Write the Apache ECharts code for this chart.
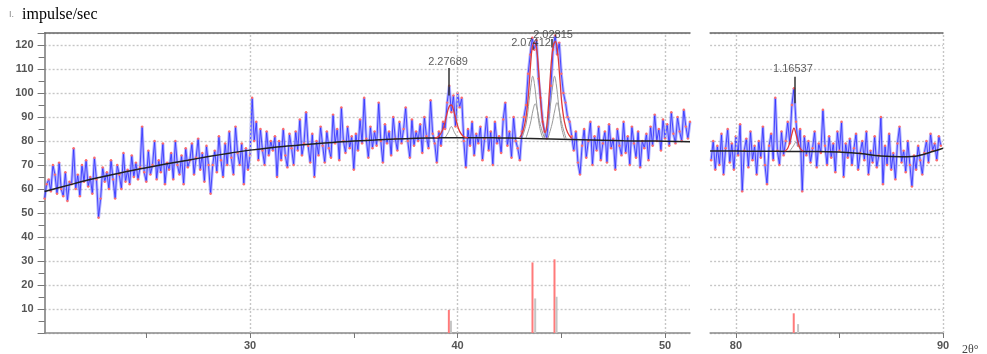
<!DOCTYPE html>
<html><head><meta charset="utf-8">
<script src="https://cdn.jsdelivr.net/npm/echarts/dist/echarts.min.js"></script>
<style>html,body{margin:0;padding:0;background:#fff}#c{width:987px;height:354px}</style>
</head><body><div id="c"></div>
<script>
// ---- data ----
const leftStart = 20.1, rightStart = 78.8, stepDeg = 0.1;
const leftCounts = [
 56,62,64,59,70,66,58,71,60,57,
 67,55,63,62,77,60,66,57,70,63,
 72,61,65,58,73,64,48,56,69,63,
 67,60,72,64,56,70,66,60,75,63,
 68,62,74,65,71,64,69,86,67,63,
 76,66,70,80,64,72,67,79,62,71,
 68,75,64,80,70,66,74,62,77,69,
 72,79,66,73,81,68,75,63,78,70,
 58,70,76,67,82,72,65,79,70,84,
 73,66,86,75,70,79,62,77,68,74,
 98,80,88,72,85,76,70,84,74,80,
 76,82,65,80,72,85,74,69,83,77,
 70,84,76,89,74,79,92,78,71,83,
 65,80,74,86,78,71,84,77,73,91,
 79,85,72,94,80,75,86,77,82,68,
 83,76,89,79,98,81,73,86,77,84,
 78,96,80,71,87,79,84,74,90,81,
 76,88,79,85,94,80,73,89,78,84,
 80,87,75,90,82,77,97,83,79,71,
 84,78,88,85,96,103,92,99,86,100,
 94,98,80,69,85,78,88,74,83,79,
 86,72,81,90,76,84,70,88,79,82,
 75,89,96,78,84,73,90,80,77,72,
 84,90,95,108,116,123,118,122,106,98,
 88,84,81,92,103,118,124,116,121,108,
 100,96,90,88,82,76,84,71,66,78,
 85,73,80,88,70,82,76,86,72,79,
 84,71,87,77,81,68,85,78,74,88,
 75,82,70,86,79,73,84,69,80,77,
 83,72,86,78,91,80,85,76,89,81,
 87,78,92,83,79,90,84,80,93,86,81,88
];
const rightCounts = [
 72,80,68,
 78,70,83,66,77,85,71,79,68,82,
 74,87,59,76,81,69,84,72,78,66,
 80,73,86,70,62,78,83,72,98,76,
 70,84,74,80,88,79,95,102,88,78,
 85,59,82,74,80,71,77,84,69,79,
 75,93,78,70,82,73,79,67,84,76,
 88,65,79,73,81,70,77,83,68,75,
 80,72,84,66,76,71,82,69,74,90,
 62,78,70,83,68,75,64,79,86,71,
 76,67,80,70,61,74,68,78,72,66,
 75,80,71,83,76,79,72,82,78
];
const bgLeftX = [20.1,21,22,23,24,25,26,27,28,29,30,31,32,33,34,35,36,37,38,39,40,41,42,43,44,45,46,47,48,49,50,51.2];
const bgLeftY = [59,61,63.3,65.3,67.2,68.9,70.5,72,73.5,74.9,76.2,77.2,78,78.8,79.4,80,80.4,80.8,81.1,81.3,81.4,81.4,81.3,81.1,80.9,80.7,80.5,80.3,80.1,80,79.9,79.7];
const bgRightX = [78.75,80,81,82,83,84,85,86,87,88,88.5,89,89.5,90];
const bgRightY = [75.8,75.8,75.7,75.7,75.6,75.6,75.4,74.8,73.7,73.4,73.5,74.3,75.6,77];

const fitA_X = [38.9,39.1,39.3,39.45,39.6,39.7,39.8,39.95,40.1,40.3,40.5];
const fitA_Y = [81.3,82,85,90,94.5,95,93,88,84,81.8,81.4];
const fitBC_X = [43.0,43.15,43.3,43.42,43.52,43.6,43.7,43.8,43.9,44.0,44.1,44.22,44.32,44.42,44.52,44.62,44.72,44.82,44.92,45.02,45.15,45.3,45.5];
const fitBC_Y = [81.5,84,90,100,112,119,121,119,110,97,88,83.5,88,100,113,120,121.5,117,107,96,88,83.5,81];
const fitD_X = [82.35,82.5,82.62,82.72,82.8,82.88,82.98,83.1,83.25];
const fitD_Y = [75.7,77,80,83.5,85.5,83.5,80,77,75.7];

const compA_X = [39.4,39.55,39.7,39.85,40.0];
const compA_Y = [81.4,83.5,86,83.5,81.4];
const compB1_X = [43.1,43.3,43.45,43.55,43.62,43.7,43.82,43.95,44.1];
const compB1_Y = [81.3,87,97,104,107,104,95,86,81.3];
const compB2_X = [43.3,43.5,43.64,43.74,43.84,43.98,44.18];
const compB2_Y = [81.3,87,93,95.5,93,87,81.3];
const compC1_X = [44.15,44.35,44.5,44.6,44.67,44.75,44.87,45.0,45.15];
const compC1_Y = [81,87,97,104,107,104,95,86,81];
const compC2_X = [44.35,44.55,44.69,44.79,44.89,45.03,45.23];
const compC2_Y = [81,87,93,96,93,87,81];
const compD_X = [82.6,82.78,82.9,83.0,83.15];
const compD_Y = [75.8,78,79.5,78,75.8];

const stickRedX = [39.58,43.61,44.67,82.79];
const stickRedY = [9.6,29.4,30.7,8.2];
const stickGrayX = [39.68,43.74,44.77,83.0];
const stickGrayY = [5.1,14.4,15.1,3.7];

const peakLabels = ['2.27689','2.07412','2.02815','1.16537'];
const peakLabelX = [39.54,43.54,44.6,82.75];
const peakLabelY = [113,120.7,124.2,109.9];
const peakLineX = [39.57,43.6,44.55,82.82];
const peakLineLow = [99,118,119,95.7];
const peakLineHigh = [110.4,119.5,122.5,106.8];

const yLabels = [10,20,30,40,50,60,70,80,90,100,110,120];
const xLabelsLeft = [30,40,50];
const xTicksLeft = [25,30,35,40,45,50];
const xLabelsRight = [80,90];
const xTicksRight = [80,85,90];
const vGridLeft = [30,40,50];
const vGridRight = [80,90];

// ---- build ----
const zip = (xs, ys) => xs.map((x, i) => [x, ys[i]]);
const grid0 = leftCounts.map((v, i) => [+(leftStart + i * stepDeg).toFixed(2), v]);
const grid1 = rightCounts.map((v, i) => [+(rightStart + i * stepDeg).toFixed(2), v]);

const labelFont = {color:'#555', fontSize:11, fontWeight:'bold', fontFamily:'Liberation Sans, Arial, sans-serif'};
const dotStyle = {type:[2,2], color:'#c6c6c6', width:1.4};

function xAxisPair(gi, min, max, ticks, labels) {
  return [
    {gridIndex:gi, type:'value', min:min, max:max, position:'bottom',
     axisLine:{show:true, onZero:false, lineStyle:{color:'#8a8a8a', width:1.5}},
     axisTick:{show:true, customValues:ticks, length:5, lineStyle:{color:'#777'}},
     axisLabel:Object.assign({customValues:labels, margin:7}, labelFont),
     splitLine:{show:false}},
    {gridIndex:gi, type:'value', min:min, max:max, position:'top',
     axisLine:{show:true, onZero:false, lineStyle:{color:'#666', width:1.5}},
     axisTick:{show:false}, axisLabel:{show:false}, splitLine:{show:false}}
  ];
}

function dataSeries(xi, yi, data) {
  return [
    {type:'line', xAxisIndex:xi, yAxisIndex:yi, data:data, showSymbol:false, silent:true, z:2,
     lineStyle:{color:'rgba(120,120,255,0.55)', width:3}},
    {type:'line', xAxisIndex:xi, yAxisIndex:yi, data:data, symbol:'circle', symbolSize:2.4,
     showSymbol:true, showAllSymbol:true, silent:true, z:3,
     itemStyle:{color:'#ff6b6b'}, lineStyle:{color:'#2a2aff', width:0.8}}
  ];
}
function curve(xi, yi, xs, ys, color, w, z, smooth) {
  return {type:'line', xAxisIndex:xi, yAxisIndex:yi, data:zip(xs, ys), showSymbol:false, silent:true,
    smooth:smooth, z:z, lineStyle:{color:color, width:w}};
}
function vlines(vals) {
  return {silent:true, symbol:['none','none'], label:{show:false},
    lineStyle:dotStyle, data:vals.map(v => ({xAxis:v}))};
}
function sticks(xi, yi, inRange) {
  const d = [];
  stickRedX.forEach((x, i) => { if (inRange(x)) d.push({value:[x, stickRedY[i]], itemStyle:{color:'#ff7a7a'}}); });
  stickGrayX.forEach((x, i) => { if (inRange(x)) d.push({value:[x, stickGrayY[i]], itemStyle:{color:'#c4c4c4'}}); });
  return {type:'bar', xAxisIndex:xi, yAxisIndex:yi, data:d, barWidth:2, silent:true, z:2};
}
function peakSeries(xi, yi, inRange) {
  const d = [], ml = [];
  peakLabels.forEach((t, i) => {
    if (!inRange(peakLabelX[i])) return;
    d.push({value:[peakLabelX[i], peakLabelY[i]], name:t});
    ml.push([{coord:[peakLineX[i], peakLineLow[i]]}, {coord:[peakLineX[i], peakLineHigh[i]]}]);
  });
  return {type:'scatter', xAxisIndex:xi, yAxisIndex:yi, data:d, symbolSize:0, silent:true, z:10,
    label:{show:true, position:'inside', formatter:p => p.name, color:'#333', fontSize:11,
      fontFamily:'Liberation Sans, Arial, sans-serif'},
    markLine:{silent:true, symbol:['none','none'], label:{show:false},
      lineStyle:{type:'solid', color:'#333', width:1.5}, data:ml}};
}

const inLeft = x => x < 60, inRight = x => x >= 60;

const chart = echarts.init(document.getElementById('c'), null, {renderer:'canvas'});
chart.setOption({
  animation:false,
  backgroundColor:'#fff',
  title:[
    {text:'impulse/sec', left:17, top:2, textStyle:{fontFamily:'Liberation Serif, Times New Roman, serif', fontSize:16, fontWeight:'normal', color:'#000'}},
    {text:'I.', left:4, top:5, textStyle:{fontFamily:'Liberation Sans, Arial, sans-serif', fontSize:9, fontWeight:'normal', color:'#888'}},
    {text:'2θ°', left:957, top:339, textStyle:{fontFamily:'Liberation Serif, Times New Roman, serif', fontSize:12, fontWeight:'normal', color:'#444'}}
  ],
  grid:[
    {left:44.6, top:33, width:645.4, height:300},
    {left:710.1, top:33, width:232.9, height:300}
  ],
  xAxis:[].concat(xAxisPair(0, 20.1, 51.2, xTicksLeft, xLabelsLeft), xAxisPair(1, 78.75, 90, xTicksRight, xLabelsRight)),
  yAxis:[
    {gridIndex:0, type:'value', min:0, max:125, interval:10,
     axisLine:{show:true, lineStyle:{color:'#777', width:1.5}},
     axisTick:{show:true, length:7, lineStyle:{color:'#777'}},
     minorTick:{show:true, splitNumber:2, length:6, lineStyle:{color:'#777'}},
     axisLabel:Object.assign({margin:11, customValues:yLabels}, labelFont),
     splitLine:{show:true, lineStyle:dotStyle}},
    {gridIndex:1, type:'value', min:0, max:125, interval:10,
     axisLine:{show:false}, axisTick:{show:false}, axisLabel:{show:false},
     splitLine:{show:true, lineStyle:dotStyle}}
  ],
  series:[].concat(
    [Object.assign(curve(0, 0, [20.1, 51.2], [null, null], '#fff', 0, 1, false), {markLine:vlines(vGridLeft)})],
    [Object.assign(curve(2, 1, [78.75, 90], [null, null], '#fff', 0, 1, false), {markLine:vlines(vGridRight)})],
    dataSeries(0, 0, grid0),
    dataSeries(2, 1, grid1),
    [curve(0, 0, bgLeftX, bgLeftY, '#222', 1.5, 5, 0.5),
     curve(2, 1, bgRightX, bgRightY, '#222', 1.5, 5, 0.5),
     curve(0, 0, compA_X, compA_Y, '#999', 1, 4, 0.4),
     curve(0, 0, compB1_X, compB1_Y, '#999', 1, 4, 0.4),
     curve(0, 0, compB2_X, compB2_Y, '#999', 1, 4, 0.4),
     curve(0, 0, compC1_X, compC1_Y, '#999', 1, 4, 0.4),
     curve(0, 0, compC2_X, compC2_Y, '#999', 1, 4, 0.4),
     curve(2, 1, compD_X, compD_Y, '#999', 1, 4, 0.4),
     curve(0, 0, fitA_X, fitA_Y, '#e03a3a', 1.3, 6, 0.4),
     curve(0, 0, fitBC_X, fitBC_Y, '#e03a3a', 1.3, 6, 0.4),
     curve(2, 1, fitD_X, fitD_Y, '#e03a3a', 1.3, 6, 0.4),
     sticks(0, 0, inLeft), sticks(2, 1, inRight),
     peakSeries(0, 0, inLeft), peakSeries(2, 1, inRight)]
  )
});
</script></body></html>
